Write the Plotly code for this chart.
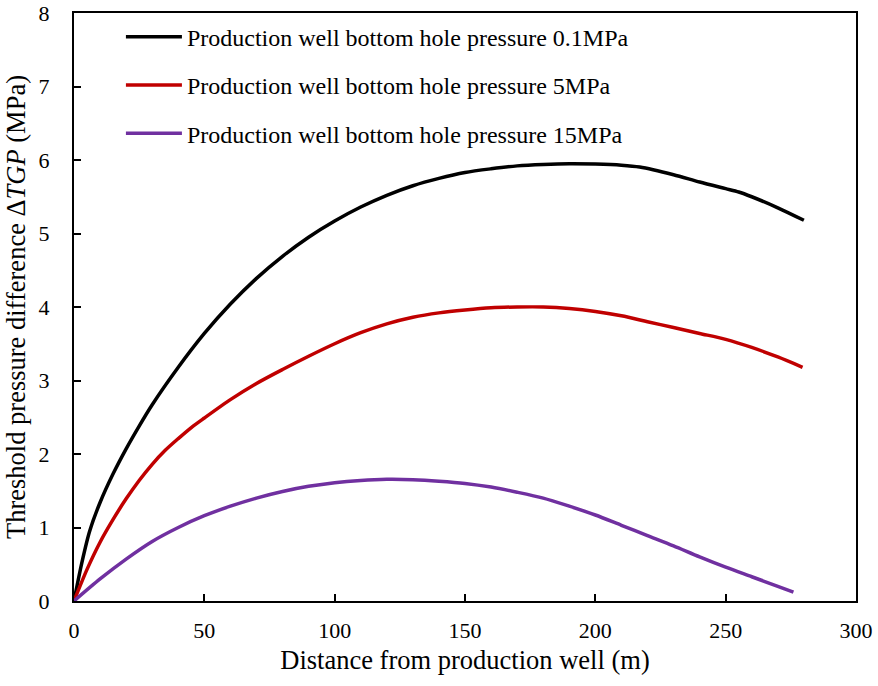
import plotly.graph_objects as go

# Distance from production well (m) and threshold pressure difference (MPa)
x_01 = [0, 3, 6, 10, 15, 20, 25, 30, 40, 50, 60, 70, 80, 90, 100, 110, 120, 130, 140, 150,
        160, 170, 180, 190, 200, 210, 217, 230, 240, 250, 255, 260, 270, 280]
y_01 = [0, 0.52, 0.95, 1.34, 1.73, 2.07, 2.38, 2.67, 3.18, 3.64, 4.04, 4.39, 4.69, 4.95, 5.17, 5.36, 5.52, 5.65, 5.75, 5.83,
        5.88, 5.92, 5.94, 5.95, 5.945, 5.93, 5.905, 5.80, 5.70, 5.61, 5.565, 5.50, 5.35, 5.18]

x_5 = [0, 5, 10, 15, 20, 25, 30, 35, 40, 45, 50, 60, 70, 80, 90, 100, 110, 120, 130, 140, 150,
       160, 170, 180, 190, 200, 210, 220, 230, 240, 250, 260, 270, 279.5]
y_5 = [0, 0.43, 0.80, 1.11, 1.39, 1.64, 1.86, 2.05, 2.21, 2.36, 2.49, 2.74, 2.96, 3.15, 3.33, 3.50, 3.65, 3.77, 3.86, 3.92, 3.96,
       3.99, 4.00, 4.00, 3.98, 3.94, 3.88, 3.80, 3.72, 3.64, 3.56, 3.45, 3.32, 3.18]

x_15 = [0, 10, 20, 30, 40, 50, 60, 70, 80, 90, 100, 110, 120, 130, 140, 150, 160, 170, 180,
        190, 200, 210, 220, 230, 240, 250, 260, 270, 276]
y_15 = [0, 0.30, 0.57, 0.81, 1.00, 1.16, 1.29, 1.40, 1.49, 1.56, 1.61, 1.64, 1.655, 1.65, 1.63, 1.60, 1.55, 1.48, 1.40,
        1.29, 1.17, 1.03, 0.89, 0.75, 0.60, 0.46, 0.33, 0.20, 0.12]

names = [
    "Production well bottom hole pressure 0.1MPa",
    "Production well bottom hole pressure 5MPa",
    "Production well bottom hole pressure 15MPa",
]
colors = ["#000000", "#C00000", "#7030A0"]

x_ticks = [0, 50, 100, 150, 200, 250, 300]
y_ticks = [0, 1, 2, 3, 4, 5, 6, 7, 8]

FONT = "Liberation Serif"

fig = go.Figure()
for i, (xs, ys) in enumerate([(x_01, y_01), (x_5, y_5), (x_15, y_15)]):
    fig.add_trace(go.Scatter(
        x=xs, y=ys, mode="lines", name=names[i], legendgroup=f"g{i}",
        line=dict(color=colors[i], width=3.5, shape="spline", smoothing=0.8),
    ))

fig.update_layout(
    width=878, height=686,
    margin=dict(l=74, r=22, t=13, b=85, autoexpand=False),
    paper_bgcolor="white", plot_bgcolor="white",
    font=dict(family=FONT, size=22, color="black"),
    showlegend=True,
    legend=dict(
        x=0.06, y=0.997, xanchor="left", yanchor="top",
        bgcolor="rgba(0,0,0,0)", font=dict(family=FONT, size=24, color="black"),
        tracegroupgap=14, itemwidth=56,
    ),
    xaxis=dict(
        range=[0, 300], tickvals=x_ticks, ticks="inside", ticklen=7, tickwidth=1.5,
        tickcolor="black", showline=True, linecolor="black", linewidth=2, mirror=True,
        showgrid=False, zeroline=False, ticklabelstandoff=9, automargin=False,
        title=dict(text="Distance from production well (m)", font=dict(family=FONT, size=26.5), standoff=8),
        tickfont=dict(family=FONT, size=22),
    ),
    yaxis=dict(
        range=[0, 8], tickvals=y_ticks, ticks="inside", ticklen=7, tickwidth=1.5,
        tickcolor="black", showline=True, linecolor="black", linewidth=2, mirror=True,
        showgrid=False, zeroline=False, ticklabelstandoff=18, automargin=False,
        title=dict(text="Threshold pressure difference Δ<i>TGP</i> (MPa)", font=dict(family=FONT, size=26.5), standoff=5),
        tickfont=dict(family=FONT, size=22),
    ),
)

fig.write_html("out.html")
